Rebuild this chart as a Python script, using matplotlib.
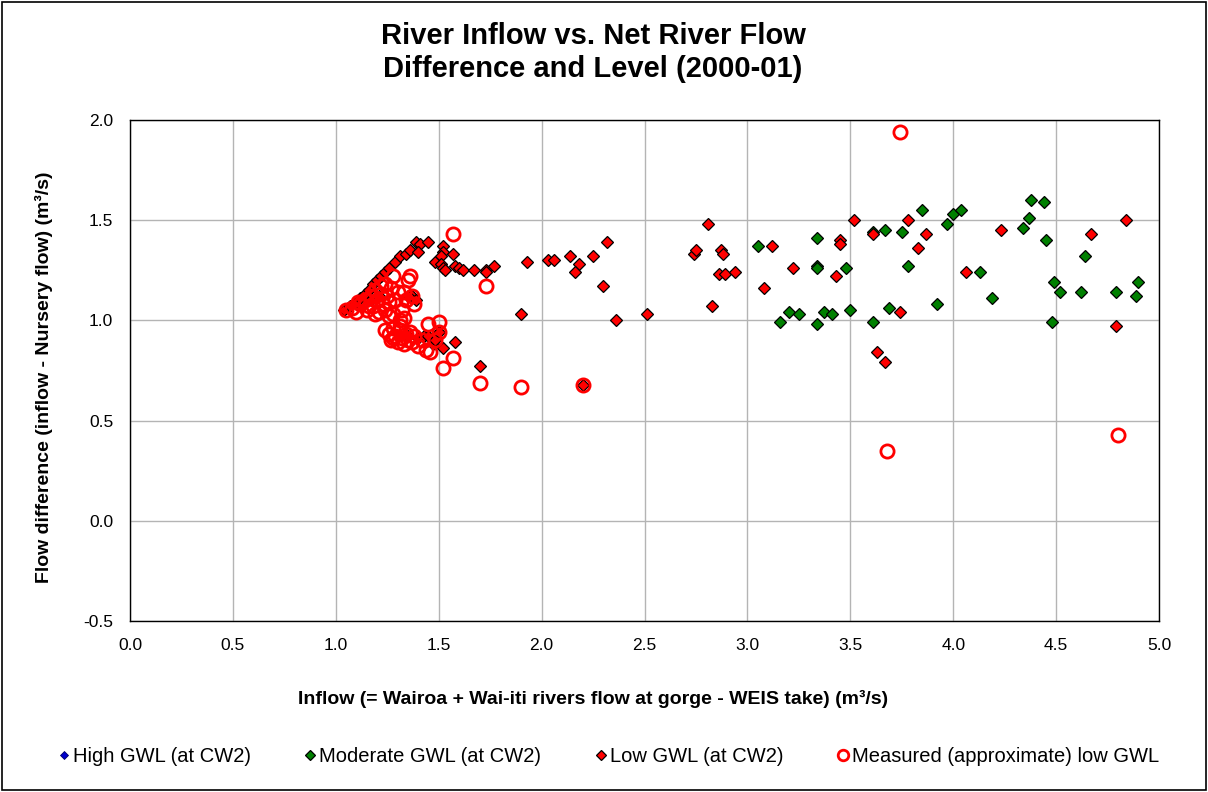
import numpy as np
import matplotlib.pyplot as plt
from matplotlib.patches import Rectangle

plt.rcParams['font.family'] = ['Liberation Sans', 'DejaVu Sans']

# Moderate GWL (at CW2)
mod_x = [3.05, 3.34, 3.34, 3.34, 3.48, 3.16, 3.20, 3.25, 3.34, 3.37, 3.41, 3.50,
         3.61, 3.61, 3.67, 3.69, 3.75, 3.78, 3.85, 3.92, 3.97, 4.00, 4.04, 4.13,
         4.19, 4.34, 4.37, 4.38, 4.44, 4.45, 4.48, 4.49, 4.52, 4.62, 4.64, 4.79,
         4.89, 4.90]
mod_y = [1.37, 1.41, 1.27, 1.26, 1.26, 0.99, 1.04, 1.03, 0.98, 1.04, 1.03, 1.05,
         1.44, 0.99, 1.45, 1.06, 1.44, 1.27, 1.55, 1.08, 1.48, 1.53, 1.55, 1.24,
         1.11, 1.46, 1.51, 1.60, 1.59, 1.40, 0.99, 1.19, 1.14, 1.14, 1.32, 1.14,
         1.12, 1.19]

# Low GWL (at CW2)
low_x = [1.04, 1.07, 1.10, 1.12, 1.14, 1.16, 1.18, 1.20, 1.22, 1.24, 1.26, 1.29,
         1.31, 1.34, 1.36, 1.39, 1.41, 1.45, 1.40, 1.37, 1.39, 1.35, 1.17, 1.21,
         1.52, 1.52, 1.57, 1.48, 1.51, 1.51, 1.52, 1.53, 1.58, 1.60, 1.62, 1.67,
         1.73, 1.73, 1.77,
         1.35, 1.40, 1.43, 1.45, 1.47, 1.48, 1.50, 1.52, 1.58, 1.70,
         1.90, 1.93, 2.03, 2.06, 2.14, 2.18, 2.16, 2.25, 2.32, 2.30, 2.36, 2.51,
         2.20, 2.81, 2.74, 2.75, 2.87, 2.88, 2.86, 2.89, 2.94, 2.83,
         3.12, 3.08, 3.22, 3.43, 3.45, 3.45, 3.52, 3.61, 3.63, 3.67, 3.74, 3.78,
         3.83, 3.87, 4.06, 4.23, 4.67, 4.79, 4.84]
low_y = [1.05, 1.07, 1.09, 1.11, 1.13, 1.15, 1.18, 1.20, 1.22, 1.24, 1.26, 1.29,
         1.32, 1.33, 1.35, 1.39, 1.38, 1.39, 1.34, 1.12, 1.10, 1.12, 1.10, 1.12,
         1.37, 1.34, 1.33, 1.29, 1.32, 1.28, 1.26, 1.25, 1.27, 1.26, 1.25, 1.25,
         1.25, 1.24, 1.27,
         0.92, 0.91, 0.92, 0.92, 0.88, 0.90, 0.94, 0.86, 0.89, 0.77,
         1.03, 1.29, 1.30, 1.30, 1.32, 1.28, 1.24, 1.32, 1.39, 1.17, 1.00, 1.03,
         0.68, 1.48, 1.33, 1.35, 1.35, 1.33, 1.23, 1.23, 1.24, 1.07,
         1.37, 1.16, 1.26, 1.22, 1.40, 1.38, 1.50, 1.43, 0.84, 0.79, 1.04, 1.50,
         1.36, 1.43, 1.24, 1.45, 1.43, 0.97, 1.50]

# Measured (approximate) low GWL
meas_x = [1.05, 1.08, 1.10, 1.12, 1.14, 1.15, 1.17, 1.18, 1.19, 1.20, 1.21, 1.22,
          1.23, 1.24, 1.25, 1.26, 1.27, 1.28, 1.29, 1.30, 1.32, 1.33, 1.35, 1.36,
          1.37, 1.38, 1.31, 1.33, 1.11, 1.16, 1.19, 1.24, 1.28, 1.34, 1.26, 1.22,
          1.24, 1.26, 1.27, 1.28, 1.29, 1.30, 1.31, 1.32, 1.33, 1.34, 1.35, 1.36,
          1.37, 1.38, 1.40, 1.42, 1.44, 1.45, 1.46, 1.48, 1.50, 1.50, 1.28, 1.31,
          1.57, 1.73, 1.57, 1.52, 1.70, 1.90, 2.20, 3.74, 3.68, 4.80]
meas_y = [1.05, 1.06, 1.04, 1.08, 1.10, 1.05, 1.12, 1.07, 1.15, 1.10, 1.04, 1.13,
          1.08, 1.18, 1.12, 1.02, 1.16, 1.22, 1.10, 1.14, 1.05, 1.14, 1.20, 1.22,
          1.12, 1.08, 1.00, 1.01, 1.09, 1.07, 1.03, 1.05, 1.03, 1.10, 1.09, 1.17,
          0.95, 0.93, 0.90, 0.96, 0.92, 0.89, 0.95, 0.91, 0.88, 0.93, 0.90, 0.94,
          0.89, 0.92, 0.87, 0.90, 0.85, 0.98, 0.84, 0.90, 0.99, 0.94, 0.91, 0.97,
          1.43, 1.17, 0.81, 0.76, 0.69, 0.67, 0.68, 1.94, 0.35, 0.43]

x_ticks = [0.0, 0.5, 1.0, 1.5, 2.0, 2.5, 3.0, 3.5, 4.0, 4.5, 5.0]
y_ticks = [-0.5, 0.0, 0.5, 1.0, 1.5, 2.0]

fig = plt.figure(figsize=(12.08, 7.92), dpi=100)
ax = fig.add_axes([130/1208, 1-621/792, 1029/1208, 501/792])

# high GWL has no points in this period, only the legend entry
ax.plot([], [], 'D', color='#0000CC', mec='#000066', ms=5, mew=0.6, label='High GWL (at CW2)')
ax.plot(mod_x, mod_y, 'D', color='#008000', mec='black', ms=6.3, mew=0.9, ls='none',
        label='Moderate GWL (at CW2)', zorder=3)
ax.plot(low_x, low_y, 'D', color='#FF0000', mec='black', ms=6.3, mew=0.9, ls='none',
        label='Low GWL (at CW2)', zorder=3)
ax.plot(meas_x, meas_y, 'o', mfc='none', mec='#FF0000', ms=9.5, mew=2, ls='none',
        label='Measured (approximate) low GWL', zorder=4)

ax.set_xlim(0, 5)
ax.set_ylim(-0.5, 2.0)
ax.set_xticks(x_ticks)
ax.set_yticks(y_ticks)
ax.set_xticklabels(['%.1f' % v for v in x_ticks])
ax.set_yticklabels(['%.1f' % v for v in y_ticks])
ax.tick_params(labelsize=12.5, length=0, pad=12)
ax.grid(True, color='#B4B4B4', lw=1)
ax.set_axisbelow(True)
for s in ax.spines.values():
    s.set_color('black')
    s.set_linewidth(1)

ax.set_xlabel('Inflow (= Wairoa + Wai-iti rivers flow at gorge - WEIS take) (m³/s)',
              fontsize=14, fontweight='bold', labelpad=27)
ax.set_ylabel('Flow difference (inflow - Nursery flow) (m³/s)',
              fontsize=14, fontweight='bold', labelpad=22)
# labels are centred on the whole chart, not on the plot area
ax.xaxis.label.set_x(0.45)
ax.yaxis.label.set_y(0.486)

fig.text(0.491, 0.934, 'River Inflow vs. Net River Flow\nDifference and Level (2000-01)',
         ha='center', va='center', fontsize=21, fontweight='bold', linespacing=1.25)

handles, labels = ax.get_legend_handles_labels()
leg = fig.legend(handles, labels, loc='center', bbox_to_anchor=(0.503, 1-757/792), ncol=4,
                 frameon=False, fontsize=14.5, handletextpad=0.1, columnspacing=2.6,
                 handlelength=0.7, markerscale=0.8)

fig.add_artist(Rectangle((0.002, 0.003), 0.996, 0.994, transform=fig.transFigure,
                         fill=False, ec='black', lw=1.2))

fig.savefig('out.png', dpi=100)
